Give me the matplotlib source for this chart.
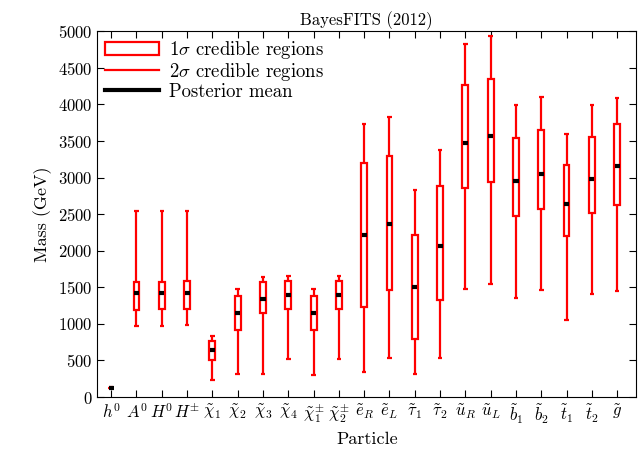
import numpy as np
import matplotlib
matplotlib.use('Agg')
import matplotlib.pyplot as plt
from matplotlib.patches import Patch
from matplotlib.lines import Line2D

plt.rcParams['font.family'] = 'serif'
plt.rcParams['font.serif'] = ['cmr10']
plt.rcParams['mathtext.fontset'] = 'cm'
plt.rcParams['axes.formatter.use_mathtext'] = True

# ── DATA ────────────────────────────────────────────────────────
particles = [r'$h^0$', r'$A^0$', r'$H^0$', r'$H^{\pm}$',
             r'$\tilde{\chi}_1$', r'$\tilde{\chi}_2$', r'$\tilde{\chi}_3$', r'$\tilde{\chi}_4$',
             r'$\tilde{\chi}_1^{\pm}$', r'$\tilde{\chi}_2^{\pm}$',
             r'$\tilde{e}_R$', r'$\tilde{e}_L$', r'$\tilde{\tau}_1$', r'$\tilde{\tau}_2$',
             r'$\tilde{u}_R$', r'$\tilde{u}_L$', r'$\tilde{b}_1$', r'$\tilde{b}_2$',
             r'$\tilde{t}_1$', r'$\tilde{t}_2$', r'$\tilde{g}$']

low2  = [118,  978,  975,  980,  240,  310,  320,  520,  300,  520,
         340,  540,  310,  540, 1480, 1550, 1360, 1460, 1060, 1410, 1450]
low1  = [120, 1190, 1200, 1200,  510,  920, 1150, 1200,  920, 1200,
         1230, 1460,  790, 1330, 2850, 2940, 2470, 2570, 2200, 2510, 2630]
mean  = [125, 1420, 1420, 1420,  640, 1150, 1340, 1390, 1150, 1390,
         2220, 2370, 1500, 2070, 3470, 3565, 2950, 3045, 2635, 2978, 3155]
high1 = [130, 1570, 1570, 1580,  760, 1380, 1570, 1580, 1380, 1580,
         3195, 3290, 2210, 2880, 4260, 4344, 3538, 3647, 3170, 3552, 3729]
high2 = [132, 2540, 2540, 2540,  830, 1470, 1640, 1660, 1470, 1660,
         3729, 3825, 2828, 3374, 4822, 4931, 3989, 4098, 3592, 3989, 4084]

# ── PLOT ────────────────────────────────────────────────────────
fig = plt.figure(figsize=(6.4, 4.58), dpi=100)
ax = fig.add_axes([0.152, 0.133, 0.842, 0.799])

x = np.arange(1, len(particles) + 1)
low2, low1, mean = np.array(low2), np.array(low1), np.array(mean)
high1, high2 = np.array(high1), np.array(high2)

ax.vlines(x, low2, low1, color='red', lw=1.6, zorder=2)
ax.vlines(x, high1, high2, color='red', lw=1.6, zorder=2)
ax.hlines(low2, x - 0.09, x + 0.09, color='red', lw=1.6, zorder=2)
ax.hlines(high2, x - 0.09, x + 0.09, color='red', lw=1.6, zorder=2)
ax.bar(x, high1 - low1, bottom=low1, width=0.23, facecolor='white',
       edgecolor='red', lw=1.6, zorder=3)
ax.hlines(mean, x - 0.1, x + 0.1, color='black', lw=3, zorder=4)

ax.set_xlim(0.45, 21.75)
ax.set_ylim(0, 5000)
ax.set_xticks(x)
ax.set_xticklabels(particles, fontsize=13)
ax.set_yticks(np.arange(0, 5001, 500))
ax.tick_params(direction='in', top=True, right=True, labelsize=12, length=5)
ax.set_xlabel('Particle', fontsize=13)
ax.set_ylabel('Mass (GeV)', fontsize=13)
ax.set_title('BayesFITS (2012)', fontsize=12, pad=4)

handles = [Patch(facecolor='white', edgecolor='red', lw=1.6),
           Line2D([], [], color='red', lw=1.6),
           Line2D([], [], color='black', lw=3)]
labels = [r'$1\sigma$ credible regions', r'$2\sigma$ credible regions', 'Posterior mean']
ax.legend(handles, labels, loc='upper left', frameon=False, fontsize=13.5,
          handlelength=2.9, handletextpad=0.5, borderaxespad=0.1,
          borderpad=0.3, labelspacing=0.0)

fig.savefig('out.png', dpi=100)
